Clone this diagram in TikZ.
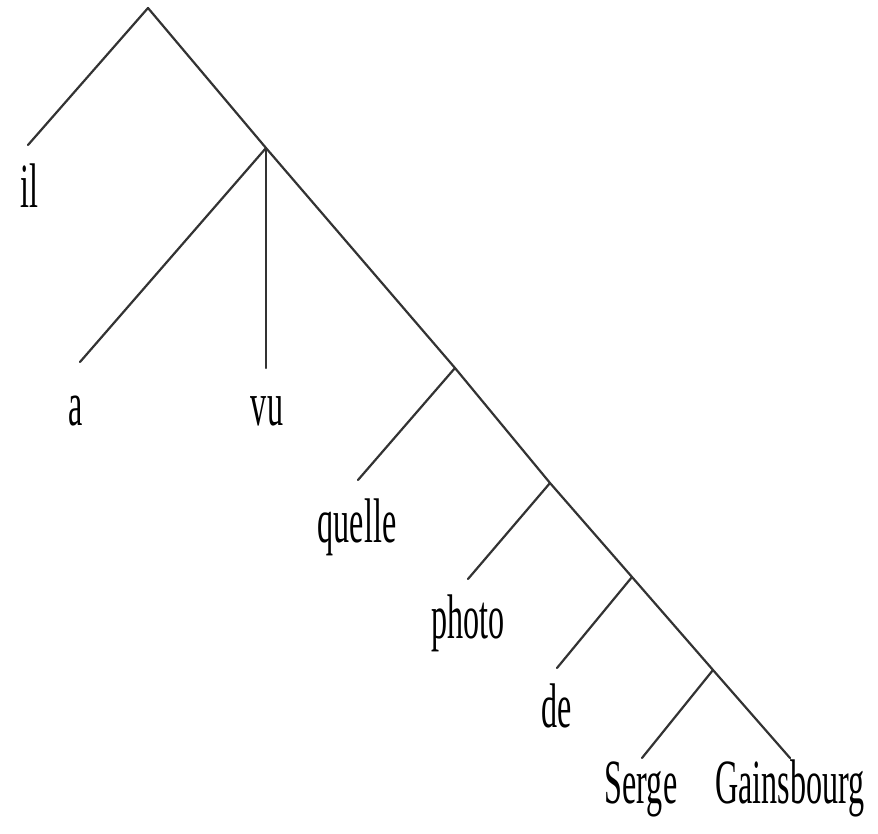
\documentclass[tikz,border=0pt]{standalone}
\usepackage{fontspec}
\newfontfamily\wordfont[FakeStretch=0.51]{Liberation Serif}
\begin{document}
\begin{tikzpicture}[x=1pt,y=-1pt,
  branch/.style={draw=black!80, line width=2.2pt, line cap=round, line join=round},
  word/.style={inner sep=0pt, anchor=base, font=\wordfont\fontsize{63}{65}\selectfont}]
\useasboundingbox (0,0) rectangle (878,834);

% internal points of the tree
\coordinate (root) at (148,8);
\coordinate (n1) at (266,148);
\coordinate (n2) at (455,368);
\coordinate (n3) at (550,483);
\coordinate (n4) at (632,577);
\coordinate (n5) at (713,670);

% free ends of the branches above the words
\coordinate (il-top) at (28,145);
\coordinate (a-top) at (80,362);
\coordinate (vu-top) at (266,368);
\coordinate (quelle-top) at (358,480);
\coordinate (photo-top) at (468,579);
\coordinate (de-top) at (557,668);
\coordinate (serge-top) at (642,758);
\coordinate (gains-top) at (790,758);

% words
\node[word] (il) at (29,208) {il};
\node[word] (a) at (76,425) {a};
\node[word] (vu) at (267,425) {vu};
\node[word] (quelle) at (357,542) {quelle};
\node[word] (photo) at (468,638) {photo};
\node[word] (de) at (557,727) {de};
\node[word] (serge) at (641,803) {Serge};
\node[word] (gains) at (790,803) {Gainsbourg};

% branches
\draw[branch] (il-top) -- (root) -- (n1) -- (n2) -- (n3) -- (n4) -- (n5) -- (gains-top);
\draw[branch] (n1) -- (a-top);
\draw[branch] (n1) -- (vu-top);
\draw[branch] (n2) -- (quelle-top);
\draw[branch] (n3) -- (photo-top);
\draw[branch] (n4) -- (de-top);
\draw[branch] (n5) -- (serge-top);
\end{tikzpicture}
\end{document}
